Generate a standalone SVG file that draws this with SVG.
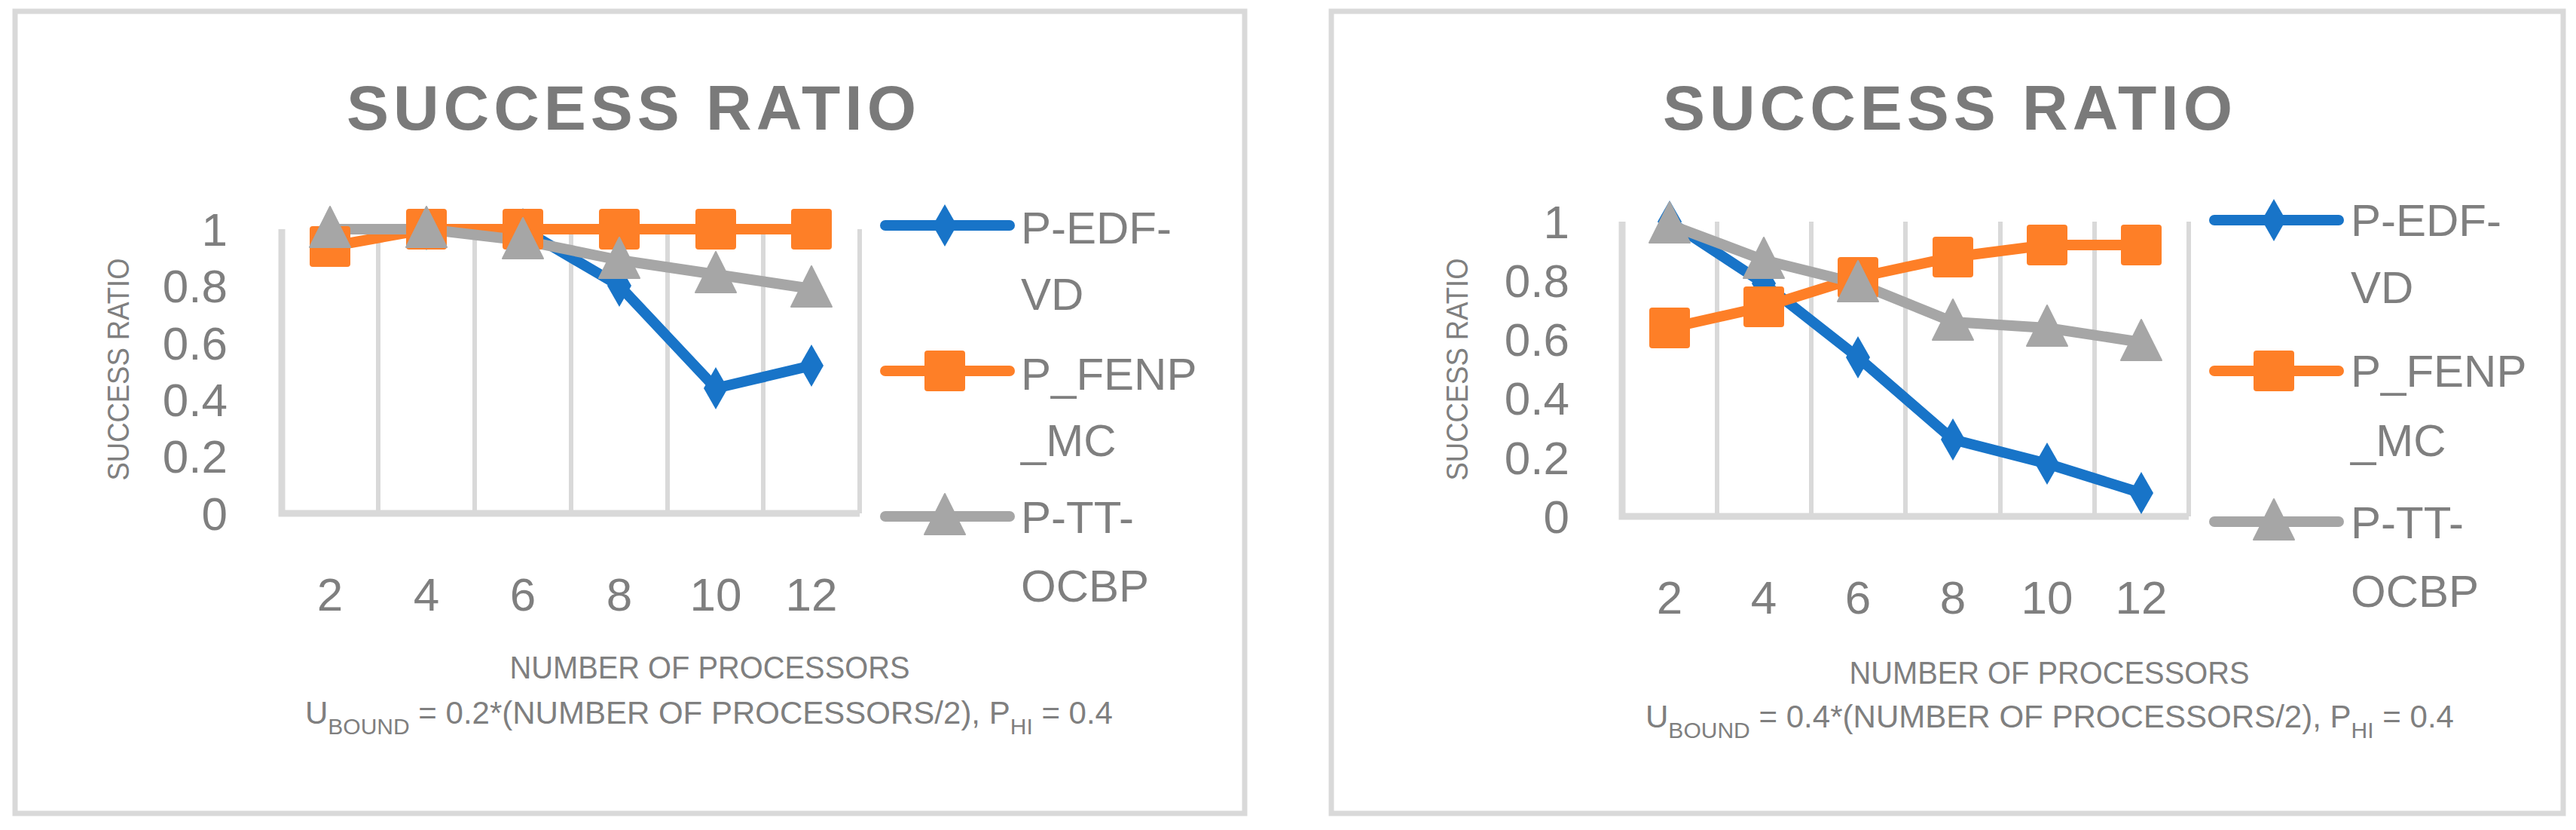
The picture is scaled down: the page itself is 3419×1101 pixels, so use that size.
<svg xmlns="http://www.w3.org/2000/svg" xmlns:xlink="http://www.w3.org/1999/xlink" width="3419" height="1101" viewBox="0 0 3419 1101">
<style>
.box{fill:#fff;stroke:#d9d9d9;stroke-width:7}
.grid{stroke:#d9d9d9;stroke-width:6;fill:none}
.axis{stroke:#d9d9d9;stroke-width:9;fill:none}
.t{font-family:"Liberation Sans",Arial,sans-serif;fill:#7f7f7f}
.title{font-family:"Liberation Sans",Arial,sans-serif;font-weight:bold;font-size:84px;fill:#7a7a7a}
.yl{font-size:62px;text-anchor:end}
.xl{font-size:62px;text-anchor:middle}
.leg{font-size:60px}
.sm{font-size:42px}
.b{stroke:#1874c8;stroke-width:14;fill:none;stroke-linejoin:round;stroke-linecap:round}
.o{stroke:#fe7f27;stroke-width:14;fill:none;stroke-linejoin:round;stroke-linecap:round}
.g{stroke:#a6a6a6;stroke-width:14;fill:none;stroke-linejoin:round;stroke-linecap:round}
</style>
<defs>
<path id="dia" d="M0,-28 L16,0 L0,28 L-16,0 Z" fill="#1874c8"/>
<rect id="sq" x="-27" y="-27" width="54" height="54" rx="4" fill="#fe7f27"/>
<path id="tri" d="M0,-30 L27,24 L-27,24 Z" fill="#a6a6a6" stroke="#a6a6a6" stroke-width="2" stroke-linejoin="round"/>
</defs>

<g id="chart1">
<rect class="box" x="20" y="15" width="1632" height="1064"/>
<text class="title" x="838" y="172" text-anchor="middle" textLength="756" lengthAdjust="spacing">SUCCESS RATIO</text>
<g id="grid1">
<path class="grid" d="M502,304V681M630,304V681M758,304V681M886,304V681M1013,304V681M1141,304V681"/>
<path class="axis" d="M374,304V681H1141"/>
</g>
<g class="t yl">
<text x="302" y="326">1</text><text x="302" y="401">0.8</text><text x="302" y="477">0.6</text><text x="302" y="552">0.4</text><text x="302" y="627">0.2</text><text x="302" y="703">0</text>
</g>
<text class="t" font-size="40" text-anchor="middle" transform="translate(171,490) rotate(-90)" textLength="295" lengthAdjust="spacingAndGlyphs">SUCCESS RATIO</text>
<g class="t xl">
<text x="438" y="810">2</text><text x="566" y="810">4</text><text x="694" y="810">6</text><text x="822" y="810">8</text><text x="950" y="810">10</text><text x="1077" y="810">12</text>
</g>
<text class="t sm" x="942" y="900" text-anchor="middle" textLength="531" lengthAdjust="spacingAndGlyphs">NUMBER OF PROCESSORS</text>
<text class="t sm" x="405" y="960" textLength="1072" lengthAdjust="spacingAndGlyphs">U<tspan font-size="30" dy="14">BOUND</tspan><tspan dy="-14"> = 0.2*(NUMBER OF PROCESSORS/2), P</tspan><tspan font-size="30" dy="14">HI</tspan><tspan dy="-14"> = 0.4</tspan></text>
<g id="series1">
<polyline class="b" points="438,304 566,304 694,304 822,379 950,515 1077,485"/>
<polyline class="o" points="438,327 566,304 694,304 822,304 950,304 1077,304"/>
<polyline class="g" points="438,304 566,304 694,319 822,345 950,364 1077,383"/>
<use xlink:href="#dia" x="438" y="304"/><use xlink:href="#dia" x="566" y="304"/><use xlink:href="#dia" x="694" y="304"/><use xlink:href="#dia" x="822" y="379"/><use xlink:href="#dia" x="950" y="515"/><use xlink:href="#dia" x="1077" y="485"/>
<use xlink:href="#sq" x="438" y="327"/><use xlink:href="#sq" x="566" y="304"/><use xlink:href="#sq" x="694" y="304"/><use xlink:href="#sq" x="822" y="304"/><use xlink:href="#sq" x="950" y="304"/><use xlink:href="#sq" x="1077" y="304"/>
<use xlink:href="#tri" x="438" y="304"/><use xlink:href="#tri" x="566" y="304"/><use xlink:href="#tri" x="694" y="319"/><use xlink:href="#tri" x="822" y="345"/><use xlink:href="#tri" x="950" y="364"/><use xlink:href="#tri" x="1077" y="383"/>
</g>
<g id="legend1">
<line class="b" x1="1175" y1="299" x2="1340" y2="299"/><use xlink:href="#dia" x="1254" y="299"/>
<line class="o" x1="1175" y1="492" x2="1340" y2="492"/><use xlink:href="#sq" x="1254" y="492"/>
<line class="g" x1="1175" y1="685" x2="1340" y2="685"/><use xlink:href="#tri" x="1254" y="685"/>
<g class="t leg">
<text x="1355" y="323">P-EDF-</text><text x="1355" y="411">VD</text>
<text x="1355" y="517">P_FENP</text><text x="1355" y="605">_MC</text>
<text x="1355" y="707">P-TT-</text><text x="1355" y="798">OCBP</text>
</g>
</g>
</g>

<g id="chart2">
<rect class="box" x="1767" y="15" width="1635" height="1064"/>
<text class="title" x="2585" y="172" text-anchor="middle" textLength="756" lengthAdjust="spacing">SUCCESS RATIO</text>
<g id="grid2">
<path class="grid" d="M2279,294V685M2404,294V685M2529,294V685M2655,294V685M2780,294V685M2905,294V685"/>
<path class="axis" d="M2153,294V685H2905"/>
</g>
<g class="t yl">
<text x="2083" y="316">1</text><text x="2083" y="394">0.8</text><text x="2083" y="472">0.6</text><text x="2083" y="550">0.4</text><text x="2083" y="629">0.2</text><text x="2083" y="707">0</text>
</g>
<text class="t" font-size="40" text-anchor="middle" transform="translate(1948,490) rotate(-90)" textLength="295" lengthAdjust="spacingAndGlyphs">SUCCESS RATIO</text>
<g class="t xl">
<text x="2216" y="814">2</text><text x="2341" y="814">4</text><text x="2466" y="814">6</text><text x="2592" y="814">8</text><text x="2717" y="814">10</text><text x="2842" y="814">12</text>
</g>
<text class="t sm" x="2720" y="907" text-anchor="middle" textLength="531" lengthAdjust="spacingAndGlyphs">NUMBER OF PROCESSORS</text>
<text class="t sm" x="2184" y="965" textLength="1073" lengthAdjust="spacingAndGlyphs">U<tspan font-size="30" dy="14">BOUND</tspan><tspan dy="-14"> = 0.4*(NUMBER OF PROCESSORS/2), P</tspan><tspan font-size="30" dy="14">HI</tspan><tspan dy="-14"> = 0.4</tspan></text>
<g id="series2">
<polyline class="b" points="2216,294 2341,376 2466,474 2592,583 2717,615 2842,654"/>
<polyline class="o" points="2216,435 2341,407 2466,368 2592,341 2717,325 2842,325"/>
<polyline class="g" points="2216,298 2341,345 2466,376 2592,427 2717,435 2842,454"/>
<use xlink:href="#dia" x="2216" y="294"/><use xlink:href="#dia" x="2341" y="376"/><use xlink:href="#dia" x="2466" y="474"/><use xlink:href="#dia" x="2592" y="583"/><use xlink:href="#dia" x="2717" y="615"/><use xlink:href="#dia" x="2842" y="654"/>
<use xlink:href="#sq" x="2216" y="435"/><use xlink:href="#sq" x="2341" y="407"/><use xlink:href="#sq" x="2466" y="368"/><use xlink:href="#sq" x="2592" y="341"/><use xlink:href="#sq" x="2717" y="325"/><use xlink:href="#sq" x="2842" y="325"/>
<use xlink:href="#tri" x="2216" y="298"/><use xlink:href="#tri" x="2341" y="345"/><use xlink:href="#tri" x="2466" y="376"/><use xlink:href="#tri" x="2592" y="427"/><use xlink:href="#tri" x="2717" y="435"/><use xlink:href="#tri" x="2842" y="454"/>
</g>
<g id="legend2">
<line class="b" x1="2939" y1="292" x2="3104" y2="292"/><use xlink:href="#dia" x="3018" y="292"/>
<line class="o" x1="2939" y1="492" x2="3104" y2="492"/><use xlink:href="#sq" x="3018" y="492"/>
<line class="g" x1="2939" y1="692" x2="3104" y2="692"/><use xlink:href="#tri" x="3018" y="692"/>
<g class="t leg">
<text x="3120" y="313">P-EDF-</text><text x="3120" y="402">VD</text>
<text x="3120" y="513">P_FENP</text><text x="3120" y="605">_MC</text>
<text x="3120" y="714">P-TT-</text><text x="3120" y="805">OCBP</text>
</g>
</g>
</g>
</svg>
